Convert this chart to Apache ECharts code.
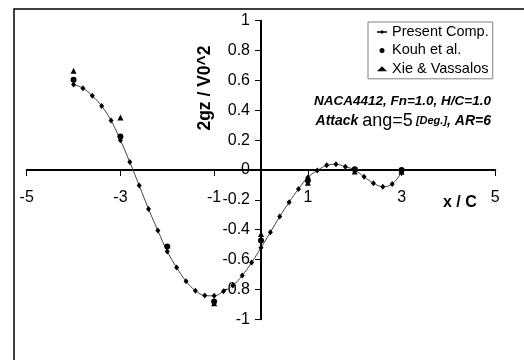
<!DOCTYPE html>
<html><head><meta charset="utf-8">
<script src="https://cdn.jsdelivr.net/npm/echarts@6.0.0/dist/echarts.min.js"></script>
<style>html,body{margin:0;padding:0;background:#fff}#c{width:524px;height:360px}</style>
</head><body><div id="c"></div>
<script>
// Present computation (x / C, 2gz / V0^2)
const xPresent = [-4.0,-3.8,-3.6,-3.4,-3.2,-3.0,-2.8,-2.6,-2.4,-2.2,-2.0,-1.8,-1.6,-1.4,-1.2,-1.0,-0.8,-0.6,-0.4,-0.2,0.0,0.2,0.4,0.6,0.8,1.0,1.2,1.4,1.6,1.8,2.0,2.2,2.4,2.6,2.8,3.0];
const yPresent = [0.573,0.548,0.497,0.428,0.332,0.200,0.053,-0.103,-0.261,-0.406,-0.546,-0.653,-0.745,-0.808,-0.841,-0.843,-0.812,-0.774,-0.706,-0.620,-0.520,-0.417,-0.312,-0.216,-0.127,-0.050,-0.004,0.031,0.038,0.022,0.000,-0.046,-0.088,-0.112,-0.093,-0.016];
// Kouh et al.
const xKouh = [-4,-3,-2,-1,0,1,2,3];
const yKouh = [0.605,0.225,-0.513,-0.880,-0.473,-0.070,0.005,0.000];
// Xie & Vassalos
const xXie = [-4,-3,-1,0,1,2,3];
const yXie = [0.665,0.352,-0.893,-0.428,-0.085,-0.010,-0.012];

const seriesNames = ['Present Comp.','Kouh et al.','Xie & Vassalos'];
const xAxisName = 'x / C';
const yAxisName = '2gz / V0^2';
const note1 = 'NACA4412, Fn=1.0, H/C=1.0';

const FONT = '"Liberation Sans", Arial, sans-serif';
const pair = (xs, ys) => xs.map((x, i) => [x, ys[i]]);

// plot area geometry
const G = {left: 26.7, top: 20.7, width: 468.6, height: 298.6};
const X_MIN = -5, X_MAX = 5, Y_MIN = -1, Y_MAX = 1;
// move each axis (line, ticks, labels) onto the other axis' zero
const xOffset = -G.height * (0 - Y_MIN) / (Y_MAX - Y_MIN);
const yOffset = -G.width * (0 - X_MIN) / (X_MAX - X_MIN);

const chart = echarts.init(document.getElementById('c'), null, {renderer: 'canvas'});
chart.setOption({
  animation: false,
  backgroundColor: '#fff',
  grid: Object.assign({outerBoundsMode: 'none', containLabel: false}, G),
  xAxis: {
    type: 'value', min: X_MIN, max: X_MAX, interval: 2, position: 'bottom', offset: xOffset,
    axisLine: {onZero: false, lineStyle: {color: '#000', width: 2}},
    axisTick: {show: true, length: 6, lineStyle: {color: '#000', width: 1}},
    axisLabel: {margin: 20, color: '#000', fontSize: 16, fontFamily: FONT, showMinLabel: true, showMaxLabel: true},
    splitLine: {show: false}
  },
  yAxis: {
    type: 'value', min: Y_MIN, max: Y_MAX, interval: 0.2, position: 'left', offset: yOffset,
    axisLine: {onZero: false, lineStyle: {color: '#000', width: 2}},
    axisTick: {show: true, length: 6, lineStyle: {color: '#000', width: 1}},
    axisLabel: {margin: 11, color: '#000', fontSize: 16, fontFamily: FONT, showMinLabel: true, showMaxLabel: true,
      formatter: v => String(Math.round(v * 10) / 10)},
    splitLine: {show: false}
  },
  legend: {
    orient: 'vertical', left: 368, top: 22,
    itemWidth: 10, itemHeight: 5, itemGap: 2.4,
    padding: [2, 4, 2, 8],
    borderColor: '#808080', borderWidth: 1, backgroundColor: '#fff',
    textStyle: {fontFamily: FONT, fontSize: 14.5, color: '#000', lineHeight: 16},
    data: [
      {name: seriesNames[0]},
      {name: seriesNames[1], icon: 'circle'},
      {name: seriesNames[2], icon: 'triangle'}
    ]
  },
  graphic: [
    {type: 'rect', shape: {x: 14, y: 9, width: 530, height: 370}, style: {fill: 'none', stroke: '#000', lineWidth: 1.5}, silent: true},
    {type: 'text', x: 205, y: 88, rotation: Math.PI / 2,
      style: {text: yAxisName, font: 'bold 17.5px ' + FONT, fill: '#000', align: 'center', verticalAlign: 'middle'}},
    {type: 'text', x: 443, y: 203,
      style: {text: xAxisName, font: 'bold 16px ' + FONT, fill: '#000', align: 'left', verticalAlign: 'middle'}},
    {type: 'text', x: 491, y: 101,
      style: {text: note1, font: 'italic bold 13.5px ' + FONT, fill: '#000', align: 'right', verticalAlign: 'middle'}},
    {type: 'text', x: 491, y: 121,
      style: {text: '{b|Attack }{r|ang=5}{s| [Deg.]}{b|, AR=6}', align: 'right', verticalAlign: 'middle',
        rich: {
          b: {font: 'italic bold 14px ' + FONT, fill: '#000'},
          r: {font: '18px ' + FONT, fill: '#000'},
          s: {font: 'italic bold 11px ' + FONT, fill: '#000'}
        }}}
  ],
  series: [
    {name: seriesNames[0], type: 'line', data: pair(xPresent, yPresent), smooth: 0.4,
      symbol: 'diamond', symbolSize: [5, 6], showAllSymbol: true,
      lineStyle: {color: '#444', width: 1}, itemStyle: {color: '#000'}, z: 3},
    {name: seriesNames[1], type: 'scatter', data: pair(xKouh, yKouh),
      symbol: 'circle', symbolSize: 6, itemStyle: {color: '#000', opacity: 1}, z: 4},
    {name: seriesNames[2], type: 'scatter', data: pair(xXie, yXie),
      symbol: 'triangle', symbolSize: 6, itemStyle: {color: '#000', opacity: 1}, z: 4}
  ]
});
</script>
</body></html>
